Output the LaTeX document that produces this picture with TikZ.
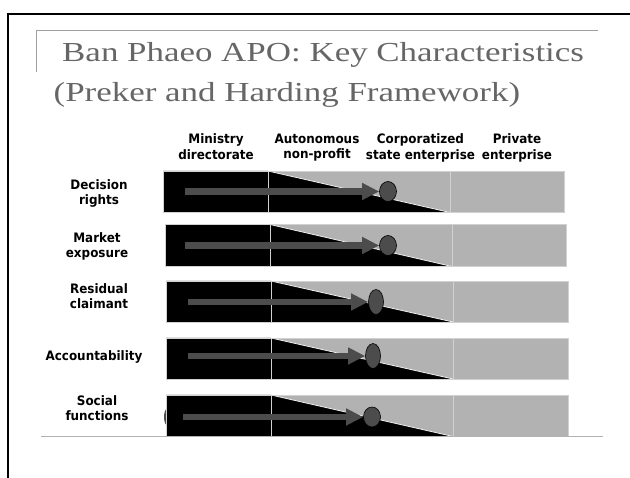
\documentclass[tikz,border=0pt]{standalone}
\usepackage{fontspec}
\usetikzlibrary{arrows.meta,shapes.geometric}
\newfontfamily\labelfont[FakeStretch=0.92]{DejaVu Sans}
\newfontfamily\titlefont[FakeStretch=1.27]{Liberation Serif}
\definecolor{slidegray}{gray}{0.4}
\definecolor{bargray}{gray}{0.7}
\definecolor{edgegray}{gray}{0.82}
\definecolor{arrowgray}{gray}{0.3}

\begin{document}
\begin{tikzpicture}[x=1pt,y=-1pt,
  rowlabel/.style={anchor=north, align=center, inner sep=0pt,
    font=\labelfont\bfseries\fontsize{13}{15.5}\selectfont},
  trend/.style={arrowgray, line width=6.5pt, -{Triangle[length=17pt,width=16pt]}},
  owner/.style={ellipse, draw=black, line width=0.6pt, fill=arrowgray,
    inner sep=0pt, minimum width=17pt, minimum height=20pt},
  barline/.style={edgegray, line width=0.8pt}]
\useasboundingbox (0,0) rectangle (630,478);

% slide frame and title
\draw[line width=1.2pt] (8,478) -- (8,14) -- (630,14);
\draw[gray!75, line width=0.8pt] (36,72) -- (36,30) -- (598,30);
\node[anchor=base west, inner sep=0pt, text=slidegray,
  font=\titlefont\fontsize{27.5}{33}\selectfont] (title1) at (62,62)
  {Ban Phaeo APO: Key Characteristics};
\node[anchor=base west, inner sep=0pt, text=slidegray,
  font=\titlefont\fontsize{27.5}{33}\selectfont] (title2) at (53.5,102)
  {(Preker and Harding Framework)};

% column heads
\node[rowlabel] (hdMin) at (216,133.5) {Ministry\\directorate};
\node[rowlabel] (hdAut) at (317,133.5) {Autonomous\\non-profit};
\node[rowlabel] (hdCor) at (420.5,133.5) {Corporatized\\state enterprise};
\node[rowlabel] (hdPri) at (517,133.5) {Private\\enterprise};

% Decision rights
\begin{scope}[shift={(163,171)}]
\fill[bargray] (0,0) rectangle (401,41.5);
\fill[black] (0,0) -- (105,0) -- (287,41.5) -- (0,41.5) -- cycle;
\draw[white!90!gray, line width=0.8pt] (105,0) -- (287,41.5);
\draw[barline] (0,0) rectangle (401,41.5) (105,0) -- (105,41.5) (287,0) -- (287,41.5);
\coordinate (start1) at (22,20.5);
\node[owner] (own1) at (225,20.5) {};
\draw[trend] (start1) -- (own1);
\end{scope}
\node[rowlabel] (rowDec) at (99,179) {Decision\\rights};

% Market exposure
\begin{scope}[shift={(165,224.5)}]
\fill[bargray] (0,0) rectangle (401,42);
\fill[black] (0,0) -- (105,0) -- (287,42) -- (0,42) -- cycle;
\draw[white!90!gray, line width=0.8pt] (105,0) -- (287,42);
\draw[barline] (0,0) rectangle (401,42) (105,0) -- (105,42) (287,0) -- (287,42);
\coordinate (start2) at (20,21);
\node[owner] (own2) at (223,21) {};
\draw[trend] (start2) -- (own2);
\end{scope}
\node[rowlabel] (rowMar) at (97,232) {Market\\exposure};

% Residual claimant
\begin{scope}[shift={(166,281)}]
\fill[bargray] (0,0) rectangle (402,41);
\fill[black] (0,0) -- (105,0) -- (287,41) -- (0,41) -- cycle;
\draw[white!90!gray, line width=0.8pt] (105,0) -- (287,41);
\draw[barline] (0,0) rectangle (402,41) (105,0) -- (105,41) (287,0) -- (287,41);
\coordinate (start3) at (22,21);
\node[owner, minimum width=15pt, minimum height=25pt] (own3) at (210,21) {};
\draw[trend] (start3) -- (own3);
\end{scope}
\node[rowlabel] (rowRes) at (99,283) {Residual\\claimant};

% Accountability
\begin{scope}[shift={(166,338)}]
\fill[bargray] (0,0) rectangle (402,41);
\fill[black] (0,0) -- (105,0) -- (287,41) -- (0,41) -- cycle;
\draw[white!90!gray, line width=0.8pt] (105,0) -- (287,41);
\draw[barline] (0,0) rectangle (402,41) (105,0) -- (105,41) (287,0) -- (287,41);
\coordinate (start4) at (22,18);
\node[owner, minimum width=15pt, minimum height=25pt] (own4) at (207,18) {};
\draw[trend] (start4) -- (own4);
\end{scope}
\node[rowlabel] (rowAcc) at (94,350) {Accountability};

% Social functions
\begin{scope}[shift={(166,395)}]
\fill[arrowgray] (2,22) ellipse [x radius=4, y radius=9];
\fill[bargray] (0,0) rectangle (402,41.5);
\fill[black] (0,0) -- (105,0) -- (287,41.5) -- (0,41.5) -- cycle;
\draw[white!90!gray, line width=0.8pt] (105,0) -- (287,41.5);
\draw[barline] (0,0) rectangle (402,41.5) (105,0) -- (105,41.5) (287,0) -- (287,41.5);
\coordinate (start5) at (17,22);
\node[owner] (own5) at (206,22) {};
\draw[trend] (start5) -- (own5);
\end{scope}
\node[rowlabel] (rowSoc) at (97,395) {Social\\functions};

% bottom rule
\draw[gray!60, line width=1pt] (41,437) -- (603,437);
\end{tikzpicture}
\end{document}
